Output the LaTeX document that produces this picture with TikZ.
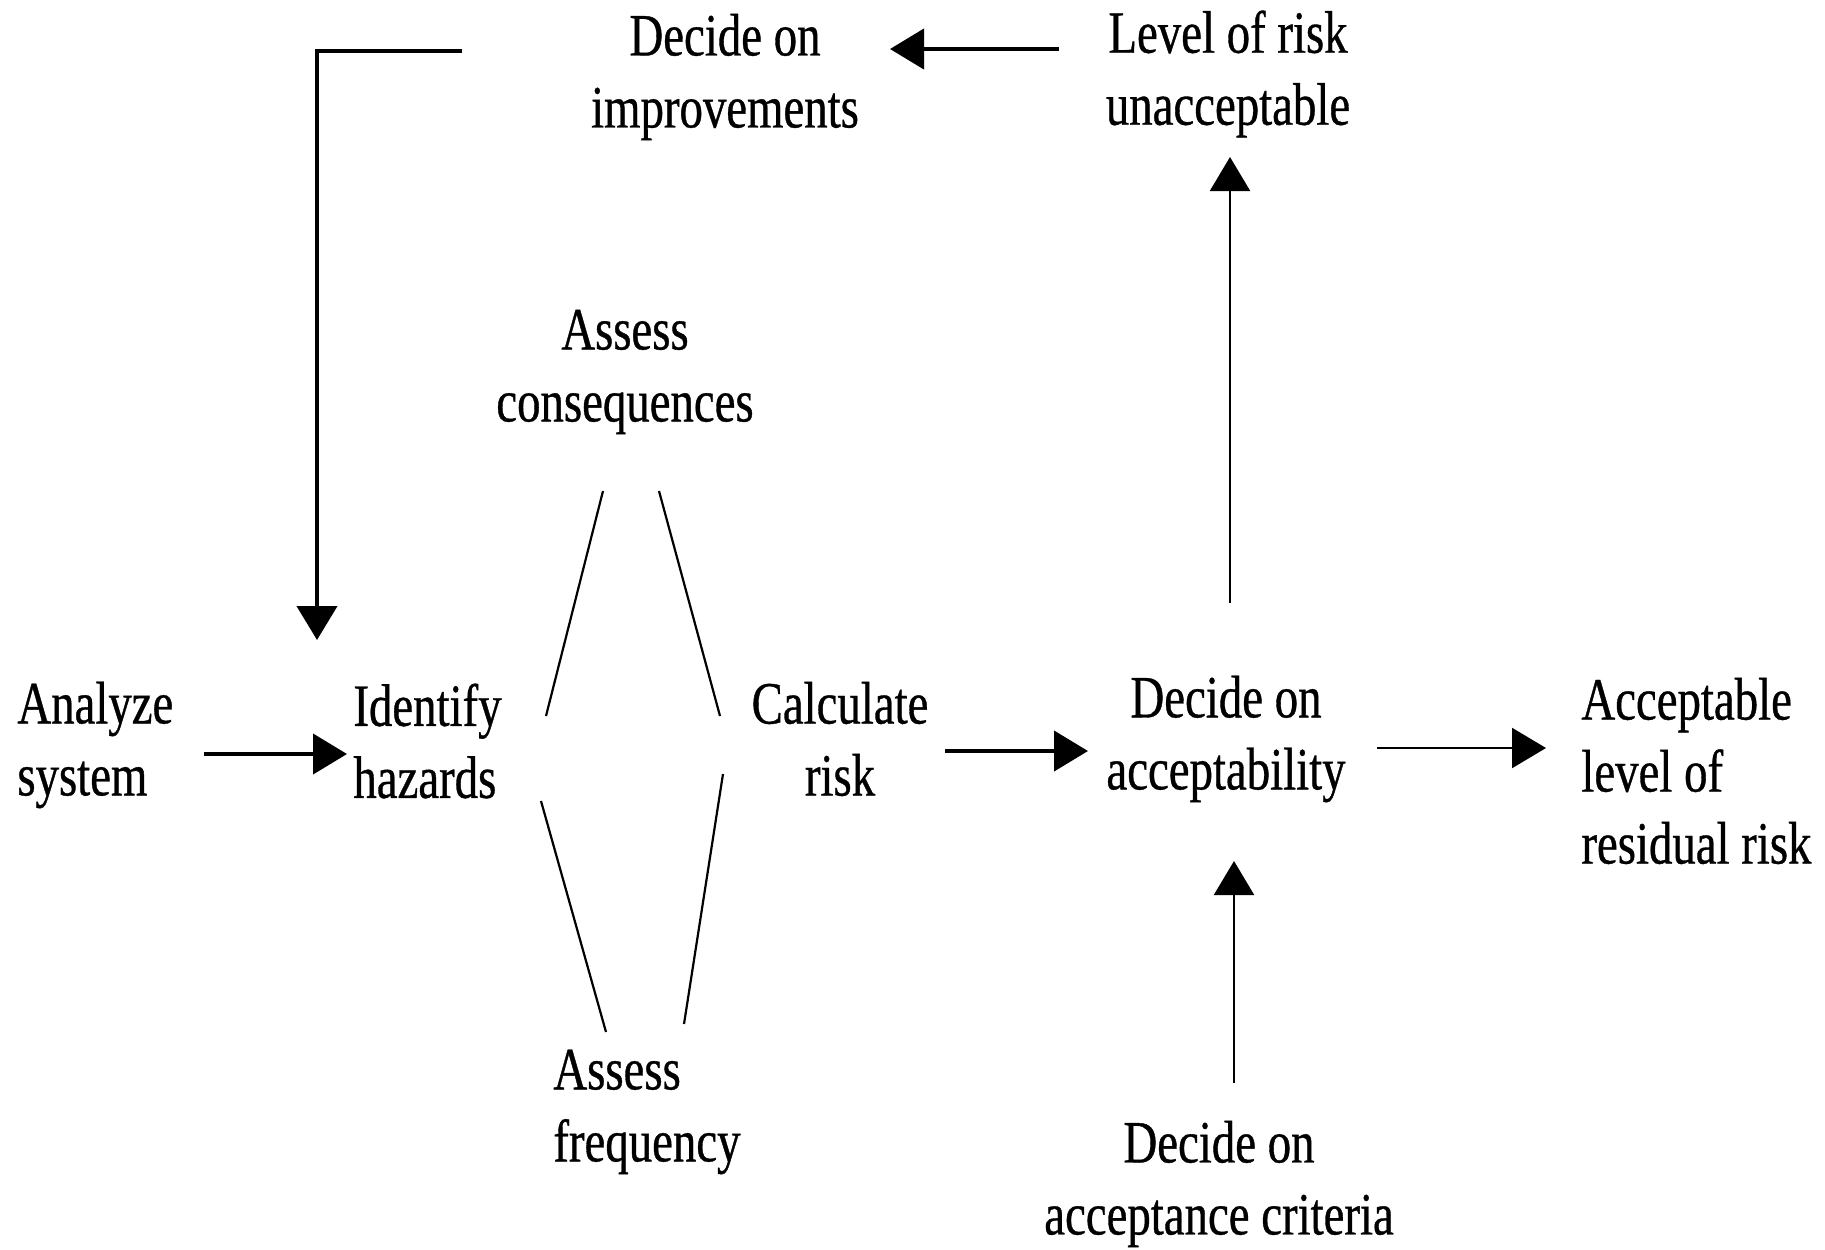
\documentclass[tikz,border=0pt]{standalone}
\usepackage{fontspec}
\setmainfont{Liberation Serif}[FakeStretch=0.78,FakeBold=0.6]
\usetikzlibrary{arrows.meta}
\begin{document}
\begin{tikzpicture}[x=0.5pt,y=-0.5pt,
 lbl/.style={font=\fontsize{30}{36}\selectfont, inner sep=0pt, align=center},
 lbll/.style={lbl, align=left, anchor=west},
 thickarr/.style={line width=2.1pt, -{Triangle[length=17pt,width=20pt]}},
 thinarr/.style={line width=1.1pt, -{Triangle[length=17pt,width=20pt]}},
 edgeline/.style={line width=1.1pt}]
\useasboundingbox (0,0) rectangle (1825,1249);

\node[lbl] (impr) at (725,77) {Decide on\\improvements};
\node[lbl] (unacc) at (1228,74) {Level of risk\\unacceptable};
\node[lbl] (cons) at (625,372) {Assess\\consequences};
\node[lbll] (analyze) at (17,745) {Analyze\\system};
\node[lbll] (hazards) at (353,741) {Identify\\hazards};
\node[lbl] (calc) at (840,739) {Calculate\\risk};
\node[lbl] (accept) at (1226,739) {Decide on\\acceptability};
\node[lbll] (resid) at (1581,771) {Acceptable\\level of\\residual risk};
\node[lbll] (freq) at (553,1112) {Assess\\frequency};
\node[lbl] (crit) at (1219,1184) {Decide on\\acceptance criteria};

\coordinate (c1) at (462,51);
\coordinate (c2) at (317,51);
\coordinate (c3) at (317,640);
\coordinate (a1) at (1059,49);
\coordinate (a2) at (890,49);
\coordinate (b1) at (204,754);
\coordinate (b2) at (347,754);
\coordinate (d1) at (945,751);
\coordinate (d2) at (1088,751);
\coordinate (e1) at (1230,603);
\coordinate (e2) at (1230,157);
\coordinate (f1) at (1377,748);
\coordinate (f2) at (1546,748);
\coordinate (g1) at (1234,1083);
\coordinate (g2) at (1234,861);

\coordinate (l1a) at (603,491);
\coordinate (l1b) at (546,716);
\coordinate (l2a) at (659,491);
\coordinate (l2b) at (720,716);
\coordinate (l3a) at (541,801);
\coordinate (l3b) at (606,1032);
\coordinate (l4a) at (723,774);
\coordinate (l4b) at (684,1024);

\draw[thickarr] (c1) -- (c2) -- (c3);
\draw[thickarr] (a1) -- (a2);
\draw[thickarr] (b1) -- (b2);
\draw[thickarr] (d1) -- (d2);
\draw[thinarr] (e1) -- (e2);
\draw[thinarr] (f1) -- (f2);
\draw[thinarr] (g1) -- (g2);

\draw[edgeline] (l1a) -- (l1b);
\draw[edgeline] (l2a) -- (l2b);
\draw[edgeline] (l3a) -- (l3b);
\draw[edgeline] (l4a) -- (l4b);
\end{tikzpicture}
\end{document}
